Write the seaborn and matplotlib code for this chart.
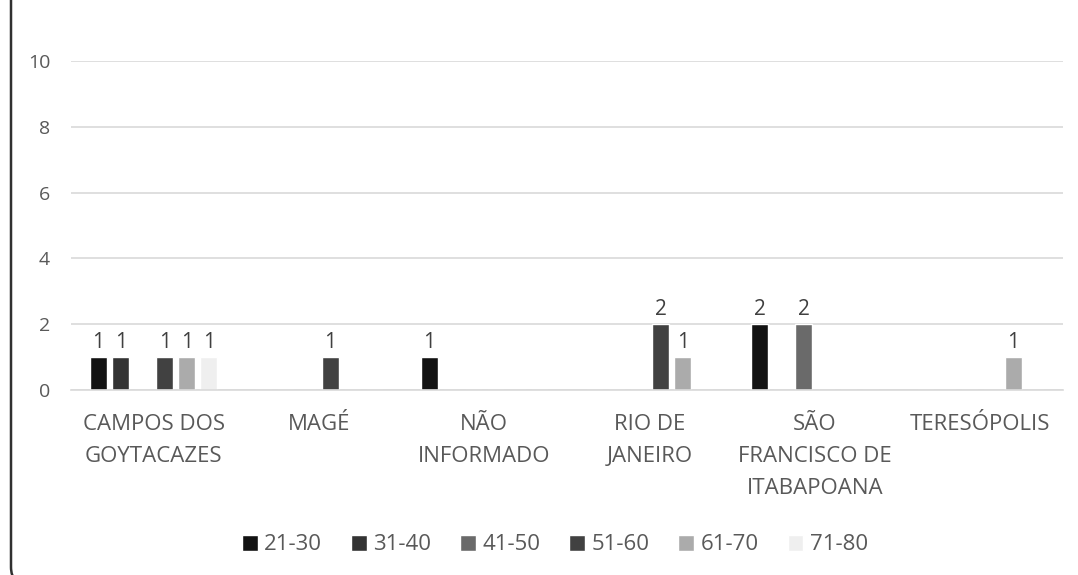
import pandas as pd
import seaborn as sns
import matplotlib.pyplot as plt
from matplotlib.patches import FancyBboxPatch

# categories and age groups
cidades = ['CAMPOS DOS\nGOYTACAZES', 'MAGÉ', 'NÃO\nINFORMADO', 'RIO DE\nJANEIRO',
           'SÃO\nFRANCISCO DE\nITABAPOANA', 'TERESÓPOLIS']
faixas = ['21-30', '31-40', '41-50', '51-60', '61-70', '71-80']

# counts per age group, one value per city
v_21_30 = [1, 0, 1, 0, 2, 0]
v_31_40 = [1, 0, 0, 0, 0, 0]
v_41_50 = [0, 0, 0, 0, 2, 0]
v_51_60 = [1, 1, 0, 2, 0, 0]
v_61_70 = [1, 0, 0, 1, 0, 1]
v_71_80 = [1, 0, 0, 0, 0, 0]

cores = ['#121212', '#333333', '#6a6a6a', '#414141', '#ababab', '#efefef']

series = [v_21_30, v_31_40, v_41_50, v_51_60, v_61_70, v_71_80]
rows = []
for faixa, vals in zip(faixas, series):
    for cidade, v in zip(cidades, vals):
        rows.append({'cidade': cidade, 'faixa': faixa, 'n': v})
df = pd.DataFrame(rows)

sns.set_style('white')
plt.rcParams['font.family'] = ['Open Sans', 'DejaVu Sans']
txt = '#595959'

fig = plt.figure(figsize=(10.78, 5.75), dpi=100)
ax = fig.add_axes([71 / 1078, 185 / 575, 992 / 1078, 329 / 575])

sns.barplot(data=df, x='cidade', y='n', hue='faixa', order=cidades, hue_order=faixas,
            palette=cores, width=0.8, gap=0.23, saturation=1, ax=ax, legend=True)

for cont in ax.containers:
    labels = [f'{int(b.get_height())}' if b.get_height() > 0 else '' for b in cont]
    ax.bar_label(cont, labels=labels, padding=3, fontsize=15, color='#404040')

ax.set_ylim(0, 10)
ax.set_yticks([0, 2, 4, 6, 8, 10])
ax.set_xlim(-0.5, 5.5)
ax.yaxis.grid(True, color='#d9d9d9', lw=1.2)
ax.set_axisbelow(True)
for s in ['top', 'right', 'left']:
    ax.spines[s].set_visible(False)
ax.spines['bottom'].set_color('#d9d9d9')
ax.spines['bottom'].set_linewidth(1.2)
ax.tick_params(axis='y', length=0, labelsize=14, labelcolor=txt, pad=15)
ax.tick_params(axis='x', length=0, labelsize=16, labelcolor=txt, pad=17)
for t in ax.get_xticklabels():
    t.set_linespacing(1.7)
    t.set_verticalalignment('top')
ax.set_xlabel('')
ax.set_ylabel('')

handles, lbls = ax.get_legend_handles_labels()
ax.get_legend().remove()
fig.legend(handles, lbls, loc='center', bbox_to_anchor=(555 / 1078, 1 - 545 / 575),
           ncol=6, frameon=False, fontsize=16, labelcolor=txt,
           handlelength=0.7, handleheight=0.7, handletextpad=0.3, columnspacing=1.3)

# chart border (rounded corner, cropped at top, right and bottom)
borda = FancyBboxPatch((11, -10), 3000, 3000, boxstyle='round,pad=0,rounding_size=18',
                       transform=None, fill=False, ec='#303030', lw=1.8)
fig.patches.append(borda)

fig.savefig('out.png', dpi=100)
